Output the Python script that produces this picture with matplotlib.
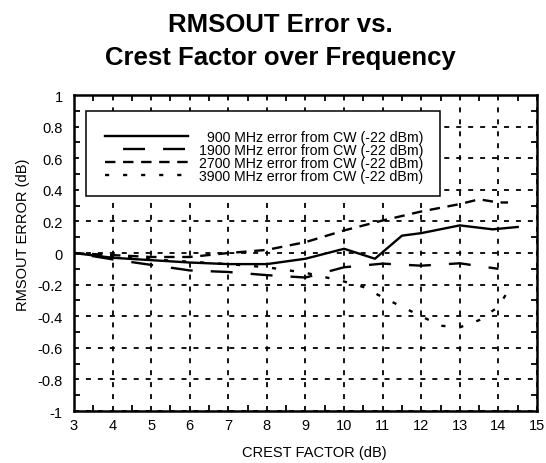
import matplotlib
matplotlib.use('Agg')
import matplotlib.pyplot as plt
from matplotlib.lines import Line2D
from matplotlib.patches import Rectangle
from matplotlib.ticker import MultipleLocator

plt.rcParams['font.family'] = ['Liberation Sans', 'DejaVu Sans']
plt.rcParams['lines.scale_dashes'] = False

# crest factor (dB) vs RMSOUT error (dB) for each frequency
crest_900 = [3, 4, 5, 6, 7, 8, 9, 10, 10.8, 11.5, 12, 13, 13.85, 14.5]
err_900 = [0, -0.03, -0.045, -0.06, -0.07, -0.07, -0.036, 0.027, -0.036, 0.11, 0.126, 0.175, 0.15, 0.165]

crest_1900 = [3, 4, 5, 6, 7, 8, 9, 10, 11, 12, 13, 14]
err_1900 = [0, -0.04, -0.075, -0.11, -0.12, -0.14, -0.155, -0.09, -0.067, -0.08, -0.065, -0.1]

crest_2700 = [3, 4, 5, 6, 7, 8, 9, 10, 11, 12, 13, 13.5, 14, 14.25]
err_2700 = [0, -0.013, -0.025, -0.025, 0.0, 0.02, 0.069, 0.143, 0.206, 0.263, 0.31, 0.34, 0.32, 0.32]

crest_3900 = [3, 4, 5, 6, 7, 8, 9, 10, 10.5, 11, 11.5, 12, 12.5, 13, 13.5, 14, 14.35]
err_3900 = [0, -0.02, -0.04, -0.055, -0.07, -0.09, -0.125, -0.18, -0.215, -0.28, -0.34, -0.40, -0.46, -0.47, -0.425, -0.34, -0.2]

labels = ['900 MHz error from CW (-22 dBm)',
          '1900 MHz error from CW (-22 dBm)',
          '2700 MHz error from CW (-22 dBm)',
          '3900 MHz error from CW (-22 dBm)']

# dash patterns in points (scale_dashes off)
styles = [
    '-',
    (15.8, (15.8, 13)),
    (0, (7.5, 5.5)),
    (0, (3, 10)),
]
lw = 1.7

fig = plt.figure(figsize=(5.46, 4.64), dpi=100)
ax = fig.add_axes([0.1355, 0.112, 0.848, 0.681])

series = [(crest_900, err_900), (crest_1900, err_1900),
          (crest_2700, err_2700), (crest_3900, err_3900)]
for (x, y), ls in zip(series, styles):
    ax.plot(x, y, color='black', lw=lw, linestyle=ls, zorder=3)

ax.set_xlim(3, 15)
ax.set_ylim(-1, 1)
ax.xaxis.set_major_locator(MultipleLocator(1))
ax.xaxis.set_minor_locator(MultipleLocator(0.5))
ax.yaxis.set_minor_locator(MultipleLocator(0.1))
ax.set_yticks([-1, -0.8, -0.6, -0.4, -0.2, 0, 0.2, 0.4, 0.6, 0.8, 1])
ax.set_yticklabels(['-1', '-0.8', '-0.6', '-0.4', '-0.2', '0', '0.2', '0.4', '0.6', '0.8', '1'])

ax.grid(True, which='major', color='black', lw=1.3, linestyle=(0, (3.6, 5)))
ax.tick_params(which='both', direction='in', top=True, right=True, width=1.3, labelsize=10.5)
ax.tick_params(which='major', length=0)
ax.tick_params(axis='y', which='major', pad=8)
ax.tick_params(axis='x', which='major', pad=5)
ax.tick_params(which='minor', length=4)
for sp in ax.spines.values():
    sp.set_linewidth(1.8)

ax.set_xlabel('CREST FACTOR (dB)', fontsize=10.5)
ax.set_ylabel('RMSOUT ERROR (dB)', fontsize=10.5)
ax.xaxis.set_label_coords(0.518, -0.108)
ax.yaxis.set_label_coords(-0.095, 0.56)

# legend box drawn by hand: handles on the left, text right-aligned
ax.add_patch(Rectangle((0.026, 0.68), 0.764, 0.269, transform=ax.transAxes,
                       facecolor='white', edgecolor='black', lw=1.1, zorder=4))
rows = [0.867, 0.826, 0.785, 0.744]
for yy, ls, lab in zip(rows, styles, labels):
    ax.add_line(Line2D([0.067, 0.246], [yy + 0.004, yy + 0.004], transform=ax.transAxes,
                       color='black', lw=lw, linestyle=ls, zorder=5))
    ax.text(0.754, yy, lab, transform=ax.transAxes, ha='right', va='center',
            fontsize=10.2, zorder=5)

fig.text(0.513, 0.931, 'RMSOUT Error vs.', ha='center', va='baseline',
         fontsize=18.5, fontweight='bold')
fig.text(0.513, 0.860, 'Crest Factor over Frequency', ha='center', va='baseline',
         fontsize=18.5, fontweight='bold')

fig.savefig('out.png', dpi=100)
